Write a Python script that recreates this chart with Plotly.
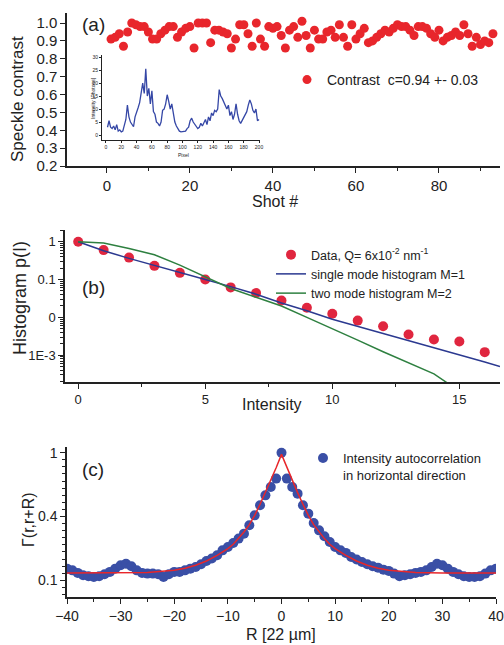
import plotly.graph_objects as go

# ---- panel (a): speckle contrast per shot ----
shots = list(range(1, 94))
contrast = [0.91, 0.92, 0.94, 0.87, 0.95, 1.00, 0.99, 0.98, 0.98, 0.95,
            0.91, 0.91, 0.94, 0.96, 0.98, 0.98, 0.92, 0.95, 0.97, 0.98,
            0.86, 1.00, 1.00, 1.00, 0.89, 0.96, 0.96, 0.95, 0.94, 0.86,
            0.91, 0.99, 0.99, 0.94, 0.87, 1.00, 0.91, 0.87, 0.98, 0.97,
            0.98, 0.93, 0.86, 0.96, 0.98, 0.92, 1.01, 0.93, 0.86, 0.96,
            0.91, 0.91, 0.95, 0.96, 0.92, 0.99, 0.92, 0.87, 0.99, 0.91,
            0.94, 0.97, 0.89, 0.90, 0.92, 0.94, 0.96, 0.95, 0.97, 0.99,
            0.98, 0.98, 0.96, 0.93, 0.98, 0.98, 0.97, 0.94, 0.92, 0.96,
            0.90, 0.92, 0.93, 0.95, 0.93, 0.99, 0.94, 0.87, 0.92, 0.88,
            0.90, 0.89, 0.94]

# inset: single shot intensity profile
inset_pixel = list(range(2, 201, 2))
inset_photons = [3, 5.5, 3, 2.5, 3.5, 2, 4, 1.5, 2, 1.2,
                 1.5, 3.5, 6, 11.5, 7, 5, 4, 3.2, 7, 8.5,
                 10.5, 12.5, 17, 20, 16, 25.5, 15, 18, 12, 17,
                 9, 8, 5, 4.5, 3.5, 5, 9.5, 10, 12, 15.5,
                 13, 10, 12, 8, 5, 3.5, 2.5, 1.5, 1.2, 1.3,
                 1.5, 1.5, 2.5, 3, 5.5, 6.5, 5, 4, 3.5, 2.5,
                 3, 4.5, 3.5, 4.5, 6, 4, 7, 5.5, 8.5, 7.5,
                 9.5, 9, 10, 17.5, 15, 14, 12.5, 11, 10, 11.5,
                 7.5, 9, 6, 8, 12, 8, 5.5, 4.5, 5.5, 6.5,
                 7.5, 9, 11.5, 13.5, 12, 9.5, 8.5, 10, 5.5, 6]

# ---- panel (b): intensity histogram ----
hist_I = list(range(0, 17))
hist_p = [1.0, 0.6, 0.38, 0.23, 0.15, 0.10, 0.062, 0.044, 0.028, 0.018,
          0.0125, 0.0082, 0.0058, 0.0035, 0.0026, 0.0023, 0.0012]
m1_I = [0, 1, 2, 3, 4, 5, 6, 7, 8, 9, 10, 11, 12, 13, 14, 15, 16, 16.6]
m1_p = [1.0, 0.575, 0.363, 0.24, 0.155, 0.1, 0.065, 0.041, 0.024, 0.015,
        0.0089, 0.0058, 0.0037, 0.0024, 0.00155, 0.001, 0.00066, 0.0005]
m2_I = [0, 1, 2, 3, 4, 5, 6, 7, 8, 9, 10, 11, 12, 13, 14, 14.6]
m2_p = [1.0, 0.93, 0.66, 0.45, 0.24, 0.118, 0.058, 0.034, 0.020, 0.010,
        0.0051, 0.0025, 0.00123, 0.00063, 0.00032, 0.00017]

# ---- panel (c): autocorrelation ----
R = list(range(-40, 41))
gamma = [0.182, 0.170, 0.152, 0.135, 0.128, 0.123, 0.128, 0.142, 0.159, 0.182,
         0.206, 0.217, 0.199, 0.170, 0.152, 0.147, 0.147, 0.142, 0.123, 0.142,
         0.159, 0.159, 0.170, 0.182, 0.194, 0.213, 0.236, 0.253, 0.276, 0.311,
         0.335, 0.363, 0.394, 0.429, 0.488, 0.558, 0.629, 0.699, 0.758, 0.817,
         1.0,
         0.817, 0.758, 0.711, 0.629, 0.570, 0.504, 0.452, 0.410, 0.370, 0.335,
         0.311, 0.293, 0.264, 0.246, 0.229, 0.213, 0.199, 0.189, 0.175, 0.166,
         0.147, 0.128, 0.135, 0.142, 0.152, 0.159, 0.170, 0.194, 0.217, 0.206,
         0.182, 0.159, 0.142, 0.128, 0.123, 0.123, 0.128, 0.147, 0.170, 0.182]
fit_R = [-40, -30, -25, -20, -18, -16, -14, -12, -10, -9, -8, -7, -6, -5, -4, -3, -2, -1, 0,
         1, 2, 3, 4, 5, 6, 7, 8, 9, 10, 12, 14, 16, 18, 20, 25, 30, 40]
fit_g = [0.152, 0.152, 0.154, 0.170, 0.185, 0.206, 0.236, 0.276, 0.323, 0.354, 0.394,
         0.441, 0.492, 0.558, 0.636, 0.718, 0.805, 0.894, 0.988,
         0.894, 0.805, 0.718, 0.636, 0.558, 0.492, 0.441, 0.394, 0.354, 0.323,
         0.276, 0.236, 0.206, 0.185, 0.170, 0.154, 0.152, 0.152]

FONT = "Liberation Sans, Arial, sans-serif"
INK = "#222"
W, H = 504, 645

fig = go.Figure()

fig.add_trace(go.Scatter(x=shots, y=contrast, mode="markers", name="Contrast  c=0.94 +- 0.03",
                         marker=dict(color="#e8262c", size=9), xaxis="x", yaxis="y", legend="legend"))
fig.add_trace(go.Scatter(x=inset_pixel, y=inset_photons, mode="lines", showlegend=False,
                         line=dict(color="#3547a6", width=1.3), xaxis="x4", yaxis="y4"))

fig.add_trace(go.Scatter(x=hist_I, y=hist_p, mode="markers", name="Data, Q= 6x10<sup>-2</sup> nm<sup>-1</sup>",
                         marker=dict(color="#e0263f", size=10), xaxis="x2", yaxis="y2", legend="legend2"))
fig.add_trace(go.Scatter(x=m1_I, y=m1_p, mode="lines", name="single mode histogram M=1",
                         line=dict(color="#2b3990", width=1.5), xaxis="x2", yaxis="y2", legend="legend2"))
fig.add_trace(go.Scatter(x=m2_I, y=m2_p, mode="lines", name="two mode histogram M=2",
                         line=dict(color="#2e8040", width=1.5), xaxis="x2", yaxis="y2", legend="legend2"))

fig.add_trace(go.Scatter(x=R, y=gamma, mode="markers",
                         name="Intensity autocorrelation<br>in horizontal direction",
                         marker=dict(color="#3a4fa6", size=10), xaxis="x3", yaxis="y3", legend="legend3"))
fig.add_trace(go.Scatter(x=fit_R, y=fit_g, mode="lines", showlegend=False,
                         line=dict(color="#e8262a", width=1.5), xaxis="x3", yaxis="y3"))


def ax(**kw):
    d = dict(showline=True, linecolor=INK, linewidth=1.5, ticks="outside", ticklen=5,
             tickwidth=1.2, tickcolor=INK, showgrid=False, zeroline=False,
             tickfont=dict(size=14, color=INK))
    d.update(kw)
    return d


def minor(**kw):
    d = dict(ticks="outside", ticklen=3, tickwidth=1, tickcolor=INK, showgrid=False)
    d.update(kw)
    return d


fig.update_layout(
    width=W, height=H,
    margin=dict(l=0, r=0, t=0, b=0, autoexpand=False),
    paper_bgcolor="white", plot_bgcolor="white",
    font=dict(family=FONT, color=INK),
    xaxis=ax(domain=[67 / W, 500 / W], anchor="y", range=[-9.6, 94.7], tick0=0, dtick=20,
             minor=minor(dtick=10), tickfont=dict(size=15, color=INK)),
    yaxis=ax(domain=[1 - 166 / H, 1 - 13 / H], anchor="x", range=[0.2, 1.056], dtick=0.1,
             tickformat=".1f", tickfont=dict(size=15, color=INK)),
    xaxis2=ax(domain=[65 / W, 500 / W], anchor="y2", range=[-0.52, 16.6], tick0=0, dtick=5,
              minor=minor(dtick=2.5), tickfont=dict(size=13, color=INK)),
    yaxis2=ax(domain=[1 - 382 / H, 1 - 230 / H], anchor="x2", type="log", range=[-3.71, 0.31],
              tickmode="array", tickvals=[1, 0.1, 0.01, 0.001], ticktext=["1", "0.1", "0", "1E-3"],
              minor=minor(dtick="D1"), tickfont=dict(size=13, color=INK)),
    xaxis3=ax(domain=[67 / W, 496 / W], anchor="y3", range=[-40, 40], tick0=0, dtick=10,
              minor=minor(dtick=5), tickfont=dict(size=14, color=INK)),
    yaxis3=ax(domain=[1 - 597 / H, 1 - 447 / H], anchor="x3", range=[-0.018, 1.04],
              tickmode="array", tickvals=[1.0, 0.55, 0.1], ticktext=["1", "0.4", "0.1"],
              minor=minor(tickmode="linear", tick0=0.1, dtick=0.05), tickfont=dict(size=14, color=INK)),
    xaxis4=ax(domain=[102 / W, 260 / W], anchor="y4", range=[-5.2, 201.3], tick0=0, dtick=20,
              ticklen=2, linewidth=1, tickfont=dict(size=5, color=INK)),
    yaxis4=ax(domain=[1 - 140 / H, 1 - 55 / H], anchor="x4", range=[-1.9, 30.8], dtick=5,
              ticklen=2, linewidth=1, tickfont=dict(size=5, color=INK)),
    legend=dict(x=287 / W, y=1 - 64 / H, xanchor="left", yanchor="top", bgcolor="rgba(0,0,0,0)",
                font=dict(size=14, color=INK)),
    legend2=dict(x=271 / W, y=1 - 240 / H, xanchor="left", yanchor="top", bgcolor="rgba(0,0,0,0)",
                 font=dict(size=12.5, color=INK), tracegroupgap=0),
    legend3=dict(x=303 / W, y=1 - 443 / H, xanchor="left", yanchor="top", bgcolor="rgba(0,0,0,0)",
                 font=dict(size=13, color=INK), valign="top"),
)

annots = [
    ("(a)", 93, 25, 19, 0), ("(b)", 93, 287, 19, 0), ("(c)", 93, 469, 19, 0),
    ("Speckle contrast", 18, 99, 17, -90), ("Shot #", 275, 201, 16, 0),
    ("Histogram p(I)", 20, 298, 18, -90), ("Intensity", 272, 404, 16, 0),
    ("\u0393(r,r+R)", 28, 520, 16, -90), ("R [22 \u00b5m]", 281, 634, 16, 0),
    ("Intensity [Photons]", 93, 98, 5, -90), ("Pixel", 183, 155, 5, 0),
]
for txt, px, py, size, ang in annots:
    fig.add_annotation(text=txt, x=px / W, y=1 - py / H, xref="paper", yref="paper",
                       showarrow=False, textangle=ang, xanchor="center", yanchor="middle",
                       font=dict(size=size, color=INK, family=FONT))

# page body has a default margin; remove it so the figure sits at the window origin
fig.write_html("out.html", config={"displayModeBar": False},
               post_script="document.body.style.margin='0';")
